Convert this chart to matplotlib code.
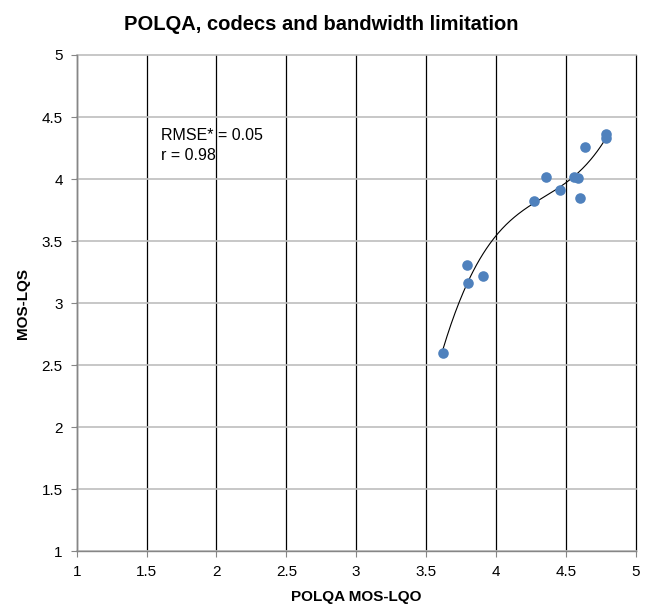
import numpy as np
import matplotlib
matplotlib.use('Agg')
import matplotlib.pyplot as plt

# POLQA MOS-LQO (x) versus subjective MOS-LQS (y)
polqa_lqo = [3.62, 3.79, 3.80, 3.91, 4.27, 4.36, 4.46, 4.56, 4.59, 4.60, 4.64, 4.79, 4.79]
mos_lqs = [2.60, 3.31, 3.16, 3.22, 3.82, 4.02, 3.91, 4.02, 4.01, 3.85, 4.26, 4.36, 4.33]

x_ticks = [1, 1.5, 2, 2.5, 3, 3.5, 4, 4.5, 5]
y_ticks = [1, 1.5, 2, 2.5, 3, 3.5, 4, 4.5, 5]
x_ticklabels = ['1', '1.5', '2', '2.5', '3', '3.5', '4', '4.5', '5']
y_ticklabels = ['1', '1.5', '2', '2.5', '3', '3.5', '4', '4.5', '5']

plt.rcParams['font.family'] = ['Liberation Sans', 'DejaVu Sans']

fig = plt.figure(figsize=(6.5, 6.11), dpi=100)
ax = fig.add_axes([0.118, 0.098, 0.86, 0.812])

# 3rd order trend line, as in the spreadsheet chart
coef = np.polyfit(polqa_lqo, mos_lqs, 3)
xs = np.linspace(min(polqa_lqo), max(polqa_lqo), 200)
ax.plot(xs, np.polyval(coef, xs), color='black', linewidth=0.8, zorder=2)

ax.scatter(polqa_lqo, mos_lqs, s=58, color='#4F81BD', zorder=3, linewidths=0)

ax.set_xlim(1, 5)
ax.set_ylim(1, 5)
ax.set_xticks(x_ticks)
ax.set_xticklabels(x_ticklabels)
ax.set_yticks(y_ticks)
ax.set_yticklabels(y_ticklabels)
ax.tick_params(axis='both', labelsize=11, length=4, color='#868686', pad=6)

ax.grid(axis='x', color='black', linewidth=0.9)
ax.grid(axis='y', color='#BEBEBE', linewidth=1.2)
ax.set_axisbelow(True)
# keep the gridlines at the axis limits visible
for gl in ax.get_xgridlines() + ax.get_ygridlines():
    gl.set_clip_on(False)
for side in ['top', 'right']:
    ax.spines[side].set_visible(False)
for side in ['left', 'bottom']:
    ax.spines[side].set_color('#868686')
    ax.spines[side].set_linewidth(1.0)
    ax.spines[side].set_zorder(1.5)

ax.text(1.6, 4.27, 'RMSE* = 0.05\nr = 0.98', fontsize=11.5, va='center', ha='left',
        linespacing=1.45)

ax.set_xlabel('POLQA MOS-LQO', fontsize=11, fontweight='bold', labelpad=8)
ax.set_ylabel('MOS-LQS', fontsize=11, fontweight='bold')
ax.yaxis.set_label_coords(-0.084, 0.5)
fig.suptitle('POLQA, codecs and bandwidth limitation', fontsize=14.5, fontweight='bold',
             x=0.495, y=0.975)

fig.savefig('out.png', dpi=100)
